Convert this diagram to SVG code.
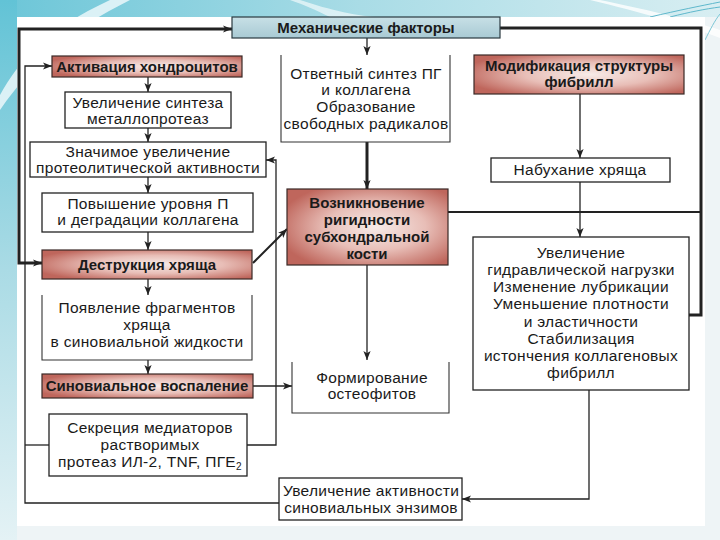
<svg xmlns="http://www.w3.org/2000/svg" width="720" height="540" viewBox="0 0 720 540">
<defs>
<style>
.box{fill:#fff;stroke:#222;stroke-width:1.3}
.open{fill:none;stroke:#333;stroke-width:1.1}
.red{fill:url(#rg);stroke:#3a2826;stroke-width:1.2}
.blue{fill:url(#bg);stroke:#2a3a40;stroke-width:1.2}
.t{font-family:"Liberation Sans",Arial,sans-serif;font-size:15.5px;letter-spacing:0.3px;fill:#1a1a1a;text-anchor:middle}
.b{font-weight:bold;font-size:15px;letter-spacing:0}
.c{fill:none;stroke:#222;stroke-width:1.3}
.thick{stroke-width:3}
.med{stroke-width:2}
</style>
<marker id="ah" viewBox="0 0 10 10" refX="10" refY="5" markerWidth="9" markerHeight="9" markerUnits="userSpaceOnUse" orient="auto-start-reverse"><path d="M0,1 L10,5 L0,9 L2.5,5 z" fill="#222"/></marker>
<radialGradient id="rg" cx="0.55" cy="0.5" r="0.62"><stop offset="0" stop-color="#f7ebe8"/><stop offset="0.5" stop-color="#e8beb7"/><stop offset="1" stop-color="#bf665c"/></radialGradient>
<linearGradient id="bg" x1="0" y1="0" x2="0" y2="1"><stop offset="0" stop-color="#c8e0e6"/><stop offset="1" stop-color="#a8cad4"/></linearGradient>
<linearGradient id="lg" x1="0" y1="0" x2="0" y2="1"><stop offset="0" stop-color="#62c3d6"/><stop offset="0.5" stop-color="#aadbe5"/><stop offset="1" stop-color="#e4f2f5"/></linearGradient>
<linearGradient id="tg" x1="0" y1="0" x2="1" y2="0"><stop offset="0" stop-color="#6cc6d8"/><stop offset="0.5" stop-color="#a9dce6"/><stop offset="1" stop-color="#d8eef2"/></linearGradient>
</defs>
<g id="background">
<rect x="0" y="0" width="720" height="540" fill="#eef4f6"/>
<rect x="0" y="0" width="720" height="17" fill="url(#tg)"/>
<rect x="0" y="0" width="17" height="540" fill="url(#lg)"/>
<path d="M0,95 C20,60 45,30 110,0 L130,0 C70,30 35,60 0,110 z" fill="#f2fafc" opacity="0.8"/>
<path d="M300,0 C330,10 360,17 380,17 L330,17 C315,10 305,5 290,0 z" fill="#ffffff" opacity="0.6"/>
<path d="M600,0 C640,8 690,20 720,30 L720,38 C690,26 640,12 590,0 z" fill="#ffffff" opacity="0.8"/>
<path d="M650,17 C680,10 700,6 720,2" fill="none" stroke="#5fb8cc" stroke-width="1"/>
<path d="M670,17 C690,12 705,9 720,7" fill="none" stroke="#5fb8cc" stroke-width="1"/>
<path d="M705,40 C710,30 715,20 720,14" fill="none" stroke="#7cc7d6" stroke-width="1"/>
<rect x="17" y="17" width="688" height="509" fill="#ffffff"/>
</g>
<g id="connectors">
<path class="c thick" d="M42,263 H19 V29 H232" marker-start="url(#ah)" marker-end="url(#ah)"/>
<path class="c thick" d="M500,28 H701 V315 H689"/>
<path class="c med" d="M448,212 H701"/>
<path class="c" d="M52,66 H25 V503 H280" marker-start="url(#ah)"/>
<path class="c" d="M25,445 H49"/>
<path class="c" d="M247,445 H276 V160 H266" marker-end="url(#ah)"/>
<path class="c" d="M367,38 V55" marker-end="url(#ah)"/>
<path class="c thick" d="M367,142 V189" marker-end="url(#ah)"/>
<path class="c" d="M367,265 V360" marker-end="url(#ah)"/>
<path class="c med" d="M253,263 L287,229" marker-end="url(#ah)"/>
<path class="c" d="M253,386 H292" marker-end="url(#ah)"/>
<path class="c" d="M148,77 V92" marker-end="url(#ah)"/>
<path class="c" d="M148,128 V142" marker-end="url(#ah)"/>
<path class="c" d="M148,177 V193" marker-end="url(#ah)"/>
<path class="c" d="M148,232 V250" marker-end="url(#ah)"/>
<path class="c" d="M148,279 V295" marker-end="url(#ah)"/>
<path class="c" d="M148,360 V374" marker-end="url(#ah)"/>
<path class="c" d="M580,94 V158" marker-end="url(#ah)"/>
<path class="c" d="M580,182 V237" marker-end="url(#ah)"/>
<path class="c" d="M589,390 V499 H462" marker-end="url(#ah)"/>
</g>
<g id="n-mech"><rect class="blue" x="232" y="17" width="268" height="21"/><text class="t b" x="366" y="33">Механические факторы</text></g>
<g id="n-activ"><rect class="red" x="52" y="56" width="190" height="21"/><text class="t b" x="147" y="72">Активация хондроцитов</text></g>
<g id="n-synth"><rect class="box" x="65" y="92" width="166" height="36"/><text class="t" x="148" y="108">Увеличение синтеза</text><text class="t" x="148" y="124">металлопротеаз</text></g>
<g id="n-proteol"><rect class="box" x="30" y="142" width="236" height="35"/><text class="t" x="148" y="157">Значимое увеличение</text><text class="t" x="148" y="173">протеолитической активности</text></g>
<g id="n-level"><rect class="box" x="42" y="193" width="211" height="39"/><text class="t" x="148" y="209">Повышение уровня П</text><text class="t" x="148" y="225">и деградации коллагена</text></g>
<g id="n-destr"><rect class="red" x="42" y="250" width="210" height="29"/><text class="t b" x="147" y="270">Деструкция хряща</text></g>
<g id="n-frag"><path class="open" d="M42,295 V360 H252 V295"/><text class="t" x="147" y="313">Появление фрагментов</text><text class="t" x="147" y="330">хряща</text><text class="t" x="147" y="347">в синовиальной жидкости</text></g>
<g id="n-inflam"><rect class="red" x="42" y="374" width="211" height="24"/><text class="t b" x="147" y="391">Синовиальное воспаление</text></g>
<g id="n-secr"><rect class="box" x="49" y="414" width="198" height="62"/><text class="t" x="150" y="433">Секреция медиаторов</text><text class="t" x="150" y="450">растворимых</text><text class="t" x="150" y="467">протеаз ИЛ-2, TNF, ПГЕ<tspan font-size="10" dy="3">2</tspan></text></g>
<g id="n-enz"><rect class="box" x="279" y="478" width="183" height="42"/><text class="t" x="371" y="496">Увеличение активности</text><text class="t" x="371" y="513">синовиальных энзимов</text></g>
<g id="n-resp"><path class="open" d="M281,55 V142 H450 V55"/><text class="t" x="366" y="79">Ответный синтез ПГ</text><text class="t" x="366" y="95">и коллагена</text><text class="t" x="366" y="112">Образование</text><text class="t" x="366" y="129">свободных радикалов</text></g>
<g id="n-rigid"><rect class="red" x="287" y="189" width="161" height="76"/><text class="t b" x="367" y="208">Возникновение</text><text class="t b" x="367" y="225">ригидности</text><text class="t b" x="367" y="242">субхондральной</text><text class="t b" x="367" y="259">кости</text></g>
<g id="n-osteo"><path class="open" d="M292,362 V413 H449 V362"/><text class="t" x="372" y="383">Формирование</text><text class="t" x="372" y="399">остеофитов</text></g>
<g id="n-modif"><rect class="red" x="474" y="55" width="210" height="39"/><text class="t b" x="579" y="71">Модификация структуры</text><text class="t b" x="579" y="87">фибрилл</text></g>
<g id="n-swell"><rect class="box" x="491" y="158" width="179" height="24"/><text class="t" x="580" y="175">Набухание хряща</text></g>
<g id="n-hydr"><rect class="box" x="473" y="237" width="216" height="153"/>
<text class="t" x="581" y="258">Увеличение</text>
<text class="t" x="581" y="275">гидравлической нагрузки</text>
<text class="t" x="581" y="292">Изменение лубрикации</text>
<text class="t" x="581" y="309">Уменьшение плотности</text>
<text class="t" x="581" y="327">и эластичности</text>
<text class="t" x="581" y="344">Стабилизация</text>
<text class="t" x="581" y="361">истончения коллагеновых</text>
<text class="t" x="581" y="378">фибрилл</text></g>
</svg>
